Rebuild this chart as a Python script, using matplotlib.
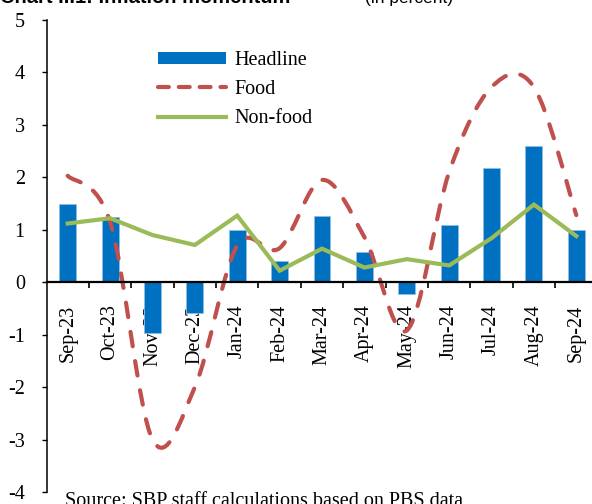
import numpy as np
import matplotlib as mpl
mpl.use('Agg')
import matplotlib.pyplot as plt
from matplotlib.path import Path
from matplotlib.patches import PathPatch, Patch
from matplotlib.lines import Line2D

plt.rcParams['axes.unicode_minus'] = False

months = ['Sep-23', 'Oct-23', 'Nov-23', 'Dec-23', 'Jan-24', 'Feb-24', 'Mar-24',
          'Apr-24', 'May-24', 'Jun-24', 'Jul-24', 'Aug-24', 'Sep-24']
headline = [1.50, 1.25, -0.96, -0.59, 1.00, 0.40, 1.26, 0.57, -0.22, 1.10, 2.18, 2.60, 0.99]
food = [2.03, 1.15, -3.00, -2.00, 0.70, 0.65, 1.95, 0.86, -0.92, 2.10, 3.72, 3.72, 1.28]
nonfood = [1.12, 1.22, 0.90, 0.71, 1.27, 0.22, 0.64, 0.28, 0.44, 0.32, 0.84, 1.48, 0.88]

C_BAR, C_FOOD, C_NF = '#0070C0', '#C0504D', '#9BBB59'
serif = 'Liberation Serif'

fig = plt.figure(figsize=(5.92, 5.04), dpi=100)
W, H = 592, 504
ax = fig.add_axes([46.5 / W, (H - 492) / H, 551 / W, 472 / H])

x = np.arange(len(months))
ax.bar(x, headline, width=0.4, color=C_BAR, edgecolor='#8fbde6', linewidth=0.6, zorder=2)

# smoothed food line (Excel-style bezier through the points)
P = np.column_stack([x, food]).astype(float)
verts, codes = [P[0]], [Path.MOVETO]
n = len(P)
for i in range(n - 1):
    p0 = P[max(i - 1, 0)]; p1 = P[i]; p2 = P[i + 1]; p3 = P[min(i + 2, n - 1)]
    verts += [p1 + (p2 - p0) / 6, p2 - (p3 - p1) / 6, p2]
    codes += [Path.CURVE4] * 3
ax.add_patch(PathPatch(Path(verts, codes), fill=False, edgecolor=C_FOOD, lw=3.0,
                       linestyle=(0, (3.5, 3.6)), capstyle='round', zorder=3))

ax.plot(x, nonfood, color=C_NF, lw=3.0, zorder=4, solid_joinstyle='miter')

ax.set_xlim(-0.5, 12.5)
ax.set_ylim(-4, 5)
ax.set_yticks(range(-4, 6))
ax.tick_params(axis='y', direction='out', length=3.6, width=1, pad=12, labelsize=14.5)
for lab in ax.get_yticklabels():
    lab.set_fontfamily(serif)

ax.spines['top'].set_visible(False)
ax.spines['right'].set_visible(False)
ax.spines['bottom'].set_position(('data', 0))
ax.spines['bottom'].set_linewidth(1.6)
ax.spines['bottom'].set_zorder(5)
ax.spines['left'].set_linewidth(1.1)

ax.set_xticks(x)
ax.set_xticklabels(months, rotation=90, fontfamily=serif, fontsize=14.5)
ax.set_xticks(np.arange(0.5, 12, 1), minor=True)
ax.tick_params(axis='x', which='major', length=0, pad=16)
ax.tick_params(axis='x', which='minor', direction='out', length=4.5, width=1.2)

handles = [Patch(facecolor=C_BAR, edgecolor='none'),
           Line2D([], [], color=C_FOOD, lw=3.0, linestyle=(0, (2.6, 2.4)), dash_capstyle='round'),
           Line2D([], [], color=C_NF, lw=3.0)]
ax.legend(handles, ['Headline', 'Food', 'Non-food'], loc='upper left',
          bbox_to_anchor=((158 - 46.5) / 551, (492 - 51) / 472), frameon=False,
          prop={'family': serif, 'size': 14.5}, handlelength=3.4, handleheight=0.55,
          handletextpad=0.4, labelspacing=0.5, borderpad=0, borderaxespad=0)

fig.text(0.0, 1 - 3 / H, 'Chart II.1: Inflation momentum', fontfamily='Liberation Sans',
         fontweight='bold', fontsize=14.5, va='baseline')
fig.text(365 / W, 1 - 3 / H, '(in percent)', fontfamily='Liberation Sans',
         fontsize=12.5, va='baseline')
fig.text(65 / W, 1 - 492 / H, 'Source: SBP staff calculations based on PBS data',
         fontfamily=serif, fontsize=14.5, va='top')

fig.savefig('out.png', dpi=100)
